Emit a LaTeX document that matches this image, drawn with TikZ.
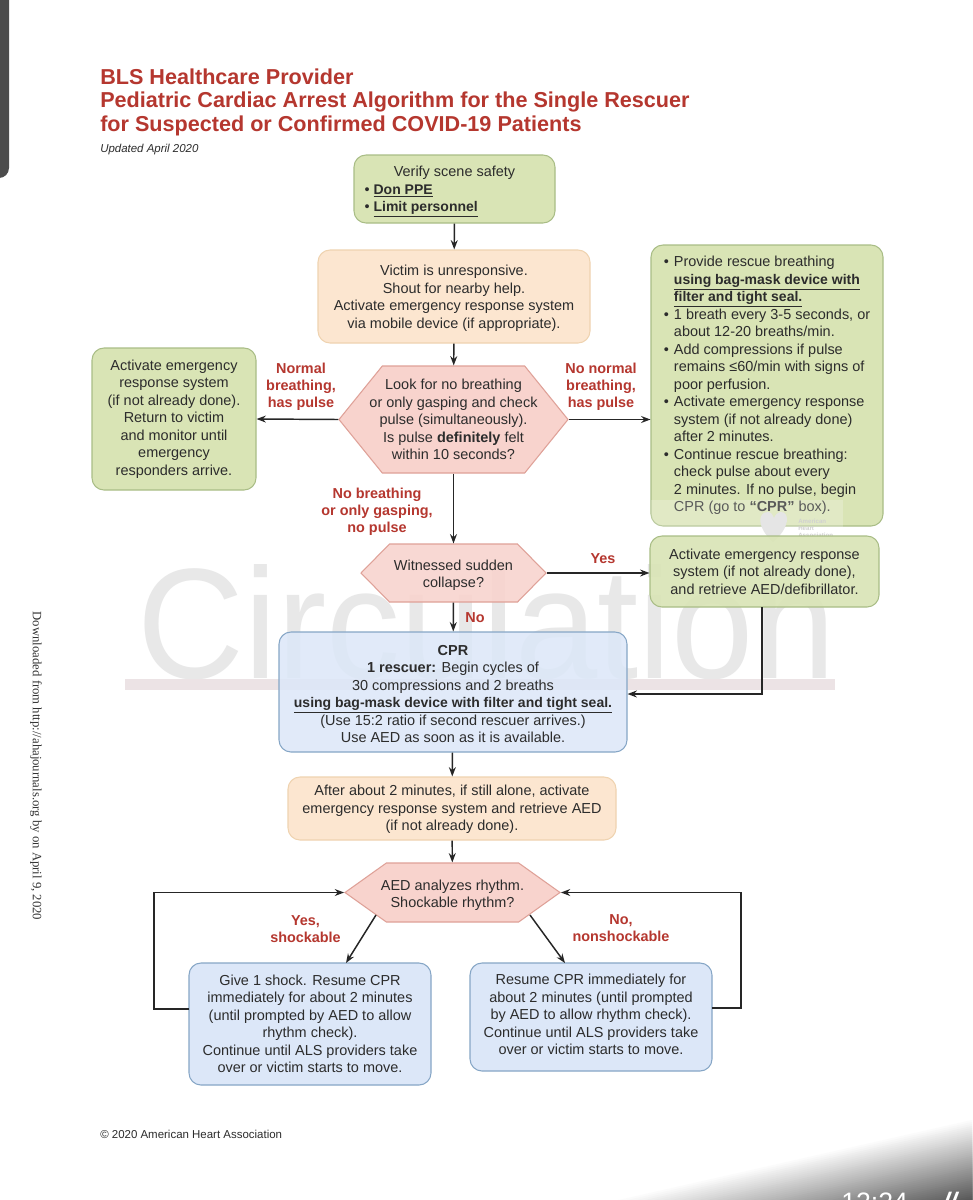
\documentclass[tikz,border=0pt]{standalone}
\usepackage{fontspec}
\setmainfont{Liberation Sans}
\newfontfamily\stampfont{Liberation Serif}
\usetikzlibrary{arrows.meta,shapes.symbols}
\definecolor{titlered}{HTML}{B5372F}
\definecolor{inkgray}{HTML}{2C2C2C}
\definecolor{greenfill}{HTML}{D9E4B5}
\definecolor{greenline}{HTML}{A9BD86}
\definecolor{orangefill}{HTML}{FCE6D0}
\definecolor{orangeline}{HTML}{EFD3B0}
\definecolor{pinkfill}{HTML}{F8D3CD}
\definecolor{pinkline}{HTML}{DFA198}
\definecolor{bluefill}{HTML}{DCE7F8}
\definecolor{blueline}{HTML}{86A6C6}
\definecolor{markbar}{HTML}{ECE3E5}
\newcommand{\ulbf}[1]{\underline{\fontsize{10.5}{13.1}\selectfont\textbf{#1}}}
\newcommand{\bul}{\makebox[7.6pt][l]{\textbullet}}
\newcommand{\ind}{\hspace*{7.6pt}}

\begin{document}
\begin{tikzpicture}[x=.75pt,y=-.75pt,
    sized/.style n args={2}{minimum width=#1*.75pt,minimum height=#2*.75pt},
    body/.style={inner sep=0pt,align=center,text=inkgray,font=\fontsize{10.85}{13.1}\selectfont},
    card/.style={body,draw,line width=.8pt,rounded corners=9pt},
    greencard/.style={card,draw=greenline,fill=greenfill},
    orangecard/.style={card,draw=orangeline,fill=orangefill},
    bluecard/.style={card,draw=blueline,fill=bluefill},
    hexcard/.style={inner sep=0pt,draw=pinkline,fill=pinkfill,line width=.8pt,shape=signal,
      signal to=east and west},
    tag/.style={inner sep=0pt,align=center,text=titlered,font=\fontsize{10.8}{12.9}\selectfont\bfseries},
    link/.style={draw=black!85,line width=1.1pt,-{Stealth[length=7pt,width=5.2pt]}}]
  \useasboundingbox (0,0) rectangle (972,1200);

  % Page furniture
  \fill[white] (0,0) rectangle (972,1200);
  \fill[black!70] (0,0) -- (9,0) -- (9,168) arc[start angle=0,end angle=90,radius=10] -- (0,178) -- cycle;
  \node[rotate=-90,inner sep=0pt,text=black!80,font=\stampfont\fontsize{9.55}{12}\selectfont] (stamp) at (36,766)
    {Downloaded from http://ahajournals.org by on April 9, 2020};
  \foreach \t in {1,...,40}{
    \pgfmathsetmacro\wd{362*(1-\t/41)}
    \pgfmathsetmacro\ht{82*(1-\t/41)}
    \pgfmathsetmacro\lev{65*\t/40}
    \fill[black!\lev] (972-\wd,1200) -- (972,1200-\ht) -- (972,1200) -- cycle;
  }
  \node[anchor=base west,inner sep=0pt,text=white,font=\fontsize{20}{21}\selectfont] (clock) at (841,1211) {12:24};
  \node[anchor=base west,inner sep=0pt,text=white,font=\fontsize{20}{21}\selectfont\bfseries\itshape] (clockmark) at (942,1211) {//};

  % Watermark
  \node[anchor=base,inner sep=0pt,text=black!9,font=\fontsize{118}{120}\selectfont,xscale=.94] (mark) at (487,678) {Circulation};
  \fill[markbar] (125,679) rectangle (835,690);

  % Title
  \node[anchor=west,inner sep=0pt,align=left,text=titlered,font=\fontsize{16.2}{17.6}\selectfont\bfseries] (title) at (100,102)
    {BLS Healthcare Provider\\Pediatric Cardiac Arrest Algorithm for the Single Rescuer\\for Suspected or Confirmed COVID-19 Patients};
  \node[anchor=west,inner sep=0pt,text=inkgray,font=\fontsize{8.6}{10}\selectfont\itshape] (updated) at (100,149.5) {Updated April 2020};

  % Boxes
  \node[greencard,sized={201}{68},
    label={[body,yshift=-2pt]center:{Verify scene safety\\\makebox[135pt][l]{\textbullet\ \ulbf{Don PPE}}\\\makebox[135pt][l]{\textbullet\ \ulbf{Limit personnel}}}}] (scene) at (454.5,189) {};
  \node[orangecard,sized={272}{93},
    label={[body,yshift=-1.2pt]center:{Victim is unresponsive.\\Shout for nearby help.\\Activate emergency response system\\via mobile device (if appropriate).}}] (victim) at (454,296.5) {};
  \node[greencard,sized={232}{281},align=left] (rescue) at (767,385.5)
    {\bul Provide rescue breathing\\
     \ind\ulbf{using bag-mask device with}\\
     \ind\ulbf{filter and tight seal.}\\
     \bul 1 breath every 3-5 seconds, or\\
     \ind about 12-20 breaths/min.\\
     \bul Add compressions if pulse\\
     \ind remains ≤60/min with signs of\\
     \ind poor perfusion.\\
     \bul Activate emergency response\\
     \ind system (if not already done)\\
     \ind after 2 minutes.\\
     \bul Continue rescue breathing:\\
     \ind check pulse about every\\
     \ind 2 minutes. If no pulse, begin\\
     \ind CPR (go to \textbf{\textquotedblleft CPR\textquotedblright} box).};
  % Faint society mark over the foot of the box
  \fill[white,opacity=.22] (651,500) rectangle (843,536);
  \fill[black!10] (773,542) .. controls (757,528) and (757,512) .. (768,512) .. controls (771,512) and (773,515) .. (774,518) .. controls (775,515) and (778,512) .. (781,512) .. controls (790,512) and (790,528) .. (773,542) -- cycle;
  \node[anchor=west,inner sep=0pt,align=left,text=black!18,font=\fontsize{4.6}{5.2}\selectfont\bfseries] (society) at (798,528)
    {American\\Heart\\Association};
  \node[greencard,sized={164}{142}] (monitor) at (174,419)
    {Activate emergency\\response system\\(if not already done).\\Return to victim\\and monitor until\\emergency\\responders arrive.};
  \node[hexcard,sized={229}{107},signal pointer angle=102,
    label={[body]center:{Look for no breathing\\or only gasping and check\\pulse (simultaneously).\\Is pulse \textbf{definitely} felt\\within 10 seconds?}}] (look) at (453.5,419.5) {};
  \node[hexcard,sized={185}{58},signal pointer angle=91,fill opacity=.88,
    label={[body,yshift=-1.5pt]center:{Witnessed sudden\\collapse?}}] (witnessed) at (453.5,573) {};
  \node[greencard,sized={229}{71},fill opacity=.9,text opacity=1] (retrieve) at (764.5,571.5)
    {Activate emergency response\\system (if not already done),\\and retrieve AED/defibrillator.};
  \node[bluecard,sized={348}{120},fill opacity=.85,
    label={[body,yshift=-1.5pt]center:{\textbf{CPR}\\\textbf{1 rescuer:} Begin cycles of\\30 compressions and 2 breaths\\\ulbf{using bag-mask device with filter and tight seal.}\\(Use 15:2 ratio if second rescuer arrives.)\\Use AED as soon as it is available.}}] (cpr) at (453,692) {};
  \node[orangecard,sized={328}{63},
    label={[body,yshift=-.8pt]center:{After about 2 minutes, if still alone, activate\\emergency response system and retrieve AED\\(if not already done).}}] (alone) at (452,808.5) {};
  \node[hexcard,sized={215}{59},signal pointer angle=71,
    label={[body,yshift=-2.2pt]center:{AED analyzes rhythm.\\Shockable rhythm?}}] (analyze) at (452.5,892.5) {};
  \node[bluecard,sized={242}{122}] (shock) at (310,1024)
    {Give 1 shock. Resume CPR\\immediately for about 2 minutes\\(until prompted by AED to allow\\rhythm check).\\Continue until ALS providers take\\over or victim starts to move.};
  \node[bluecard,sized={242}{108},text depth=3.7pt] (resume) at (591,1017)
    {Resume CPR immediately for\\about 2 minutes (until prompted\\by AED to allow rhythm check).\\Continue until ALS providers take\\over or victim starts to move.};

  % Connectors
  \coordinate (cprin) at (cpr.east |- 0,694);
  \coordinate (retrieveout) at (762,607);
  \coordinate (shockin) at (346,963);
  \coordinate (resumein) at (565,963);
  \coordinate (shockfrom) at (376,915);
  \coordinate (resumefrom) at (530,915);
  \coordinate (shockout) at (189,1009);
  \coordinate (shockturn) at (154,1009);
  \coordinate (resumeout) at (712,1008);
  \coordinate (resumeturn) at (741,1008);
  \draw[link] (scene) -- (victim);
  \draw[link] (victim) -- (look);
  \draw[link] (look.west) -- (monitor.east);
  \draw[link] (look.east) -- (rescue.west |- look.east);
  \draw[link] (look) -- (witnessed);
  \draw[link] (witnessed.east) -- (retrieve.west |- witnessed.east);
  \draw[link] (witnessed) -- (cpr);
  \draw[link] (retrieveout) |- (cprin);
  \draw[link] (cpr) -- (alone);
  \draw[link] (alone) -- (analyze);
  \draw[link] (shockfrom) -- (shockin);
  \draw[link] (resumefrom) -- (resumein);
  \draw[link] (shockout) -- (shockturn) |- (analyze.west);
  \draw[link] (resumeout) -- (resumeturn) |- (analyze.east);

  % Branch labels
  \node[tag] (lnormal) at (301,387) {Normal\\breathing,\\has pulse};
  \node[tag] (lnonormal) at (601,387) {No normal\\breathing,\\has pulse};
  \node[tag] (lnobreath) at (377,512) {No breathing\\or only gasping,\\no pulse};
  \node[tag] (lyes) at (603,559) {Yes};
  \node[tag] (lno) at (475,618) {No};
  \node[tag] (lshock) at (305.5,929.5) {Yes,\\shockable};
  \node[tag] (lnoshock) at (621,928.5) {No,\\nonshockable};

  \node[anchor=west,inner sep=0pt,text=inkgray,font=\fontsize{8.6}{10}\selectfont] (copyright) at (100,1134) {© 2020 American Heart Association};
\end{tikzpicture}
\end{document}
